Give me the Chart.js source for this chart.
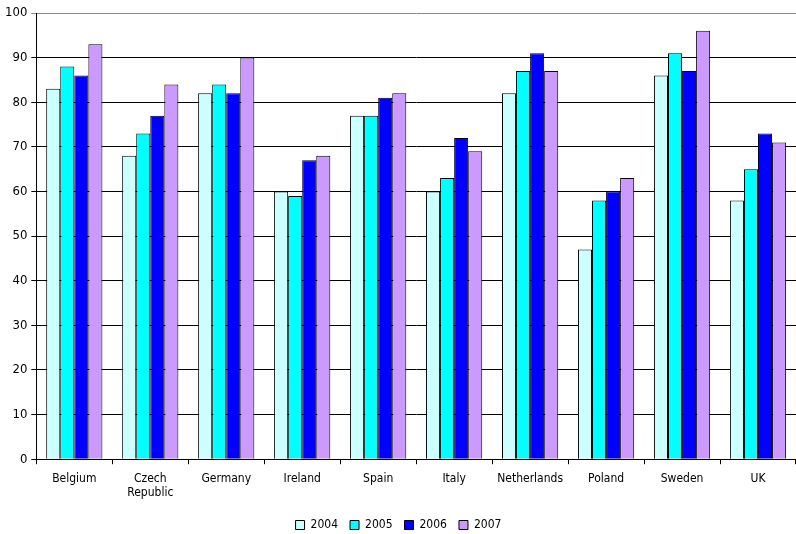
<!DOCTYPE html>
<html>
<head>
<meta charset="utf-8">
<script src="https://cdn.jsdelivr.net/npm/chart.js@4/dist/chart.umd.min.js"></script>
<style>
  html, body { margin: 0; padding: 0; background: #fff; }
  canvas { display: block; }
</style>
</head>
<body>
<canvas id="chart" width="796" height="534"></canvas>
<script>
/* categories and yearly values */
const countries = ['Belgium', ['Czech', 'Republic'], 'Germany', 'Ireland', 'Spain',
                   'Italy', 'Netherlands', 'Poland', 'Sweden', 'UK'];
const years    = ['2004', '2005', '2006', '2007'];
const vals2004 = [83, 68, 82, 60, 77, 60, 82, 47, 86, 58];
const vals2005 = [88, 73, 84, 59, 77, 63, 87, 58, 91, 65];
const vals2006 = [86, 77, 82, 67, 81, 72, 91, 60, 87, 73];
const vals2007 = [93, 84, 90, 68, 82, 69, 87, 63, 96, 71];
const yTicks   = [0, 10, 20, 30, 40, 50, 60, 70, 80, 90, 100];

const colors = ['#CCFFFF', '#00FFFF', '#0000FF', '#CC99FF'];
const series = [vals2004, vals2005, vals2006, vals2007];

const FONT = '"DejaVu Sans Condensed", "Liberation Sans Narrow", "Liberation Sans", sans-serif';

new Chart(document.getElementById('chart'), {
  type: 'bar',
  data: {
    labels: countries,
    datasets: series.map((d, i) => ({
      label             : years[i],
      data              : d,
      backgroundColor   : colors[i],
      borderColor       : '#000',
      borderWidth       : 1,
      barPercentage     : 1,
      categoryPercentage: 0.74,
    })),
  },
  options: {
    responsive: false,
    animation : false,
    layout: { padding: { top: 13, right: 0, left: 1, bottom: -7 } },
    plugins: {
      legend: {
        position: 'bottom',
        labels: {
          boxWidth : 9,
          boxHeight: 9,
          padding  : 12,
          color    : '#000',
          font     : { family: FONT, size: 12 },
        },
      },
      tooltip: { enabled: false },
    },
    scales: {
      x: {
        grid: {
          offset         : true,
          drawOnChartArea: false,
          color          : '#000',
          tickLength     : 5,
        },
        border: { color: '#000' },
        ticks : {
          color      : '#000',
          maxRotation: 0,
          autoSkip   : false,
          padding    : 7,
          font       : { family: FONT, size: 12 },
        },
      },
      y: {
        min: 0,
        max: 100,
        afterBuildTicks: axis => { axis.ticks = yTicks.map(v => ({ value: v })); },
        grid: {
          color     : ctx => ctx.tick && ctx.tick.value === 100 ? '#888' : '#000',
          tickLength: 5,
        },
        border: { color: '#000' },
        ticks : {
          color  : '#000',
          padding: 4,
          font   : { family: FONT, size: 13 },
        },
      },
    },
  },
});
</script>
</body>
</html>
